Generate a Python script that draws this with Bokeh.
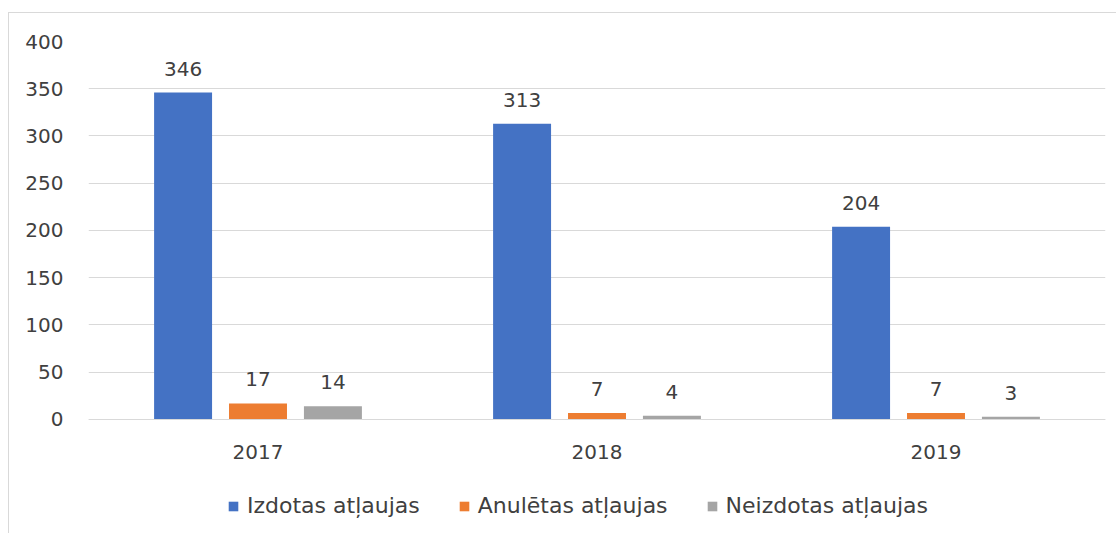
from bokeh.plotting import figure
from bokeh.models import ColumnDataSource, LabelSet, Legend, LegendItem
from bokeh.transform import dodge
from bokeh.core.properties import value
from bokeh.embed import file_html
from bokeh.resources import INLINE

years = ["2017", "2018", "2019"]
izdotas = [346, 313, 204]
anuletas = [17, 7, 7]
neizdotas = [14, 4, 3]
series_names = ["Izdotas atļaujas", "Anulētas atļaujas", "Neizdotas atļaujas"]
colors = ["#4472C4", "#ED7D31", "#A5A5A5"]
y_ticks = [0, 50, 100, 150, 200, 250, 300, 350, 400]

FONT = "DejaVu Sans"
TXT = "#404040"

src = ColumnDataSource(dict(years=years, a=izdotas, b=anuletas, c=neizdotas,
                            la=[str(v) for v in izdotas],
                            lb=[str(v) for v in anuletas],
                            lc=[str(v) for v in neizdotas]))

# the frame runs down to the bottom of the picture; the area below 0 holds
# the category labels and the legend
p = figure(x_range=years, y_range=(-121.7, 400), width=1108, height=521,
           output_backend="svg", toolbar_location=None,
           min_border_left=79, min_border_right=12, min_border_top=28, min_border_bottom=0,
           styles={"border-left": "1px solid #d9d9d9", "border-top": "1px solid #d9d9d9",
                   "margin-left": "8px", "margin-top": "12px"})
p.x_range.range_padding = 0
p.outline_line_color = None
p.background_fill_color = "white"

offsets = [-0.221, 0.0, 0.221]
cols = ["a", "b", "c"]
lcols = ["la", "lb", "lc"]
renderers = []
for off, col, lcol, color in zip(offsets, cols, lcols, colors):
    r = p.vbar(x=dodge("years", off, range=p.x_range), top=col, width=0.171,
               source=src, fill_color=color, line_color=None)
    renderers.append(r)
    lbl = LabelSet(x=dodge("years", off, range=p.x_range), y=col, text=lcol,
                   source=src, text_align="center", text_baseline="bottom",
                   y_offset=17, text_font=value(FONT), text_font_size="20px", text_color=TXT)
    p.add_layout(lbl)

p.yaxis.ticker = y_ticks
p.yaxis.axis_line_color = None
p.yaxis.major_tick_line_color = None
p.yaxis.minor_tick_line_color = None
p.yaxis.major_label_standoff = 19
p.yaxis.major_label_text_font = FONT
p.yaxis.major_label_text_font_size = "20px"
p.yaxis.major_label_text_color = TXT

p.xaxis.fixed_location = 0
p.xaxis.axis_line_color = "#d9d9d9"
p.xaxis.major_tick_line_color = None
p.xaxis.minor_tick_line_color = None
p.xaxis.major_label_standoff = 20
p.xaxis.major_label_text_font = FONT
p.xaxis.major_label_text_font_size = "20px"
p.xaxis.major_label_text_color = TXT

p.xgrid.grid_line_color = None
p.ygrid.grid_line_color = "#d9d9d9"
p.ygrid.grid_line_width = 1

legend = Legend(items=[LegendItem(label=n, renderers=[r]) for n, r in zip(series_names, renderers)],
                orientation="horizontal", location=(139, 16),
                glyph_width=12, glyph_height=12, label_standoff=8, spacing=38,
                padding=0, margin=0, border_line_color=None, background_fill_alpha=0,
                label_text_font=FONT, label_text_font_size="22px", label_text_color=TXT)
p.add_layout(legend, "center")

open("out.html", "w").write(file_html(p, INLINE))
